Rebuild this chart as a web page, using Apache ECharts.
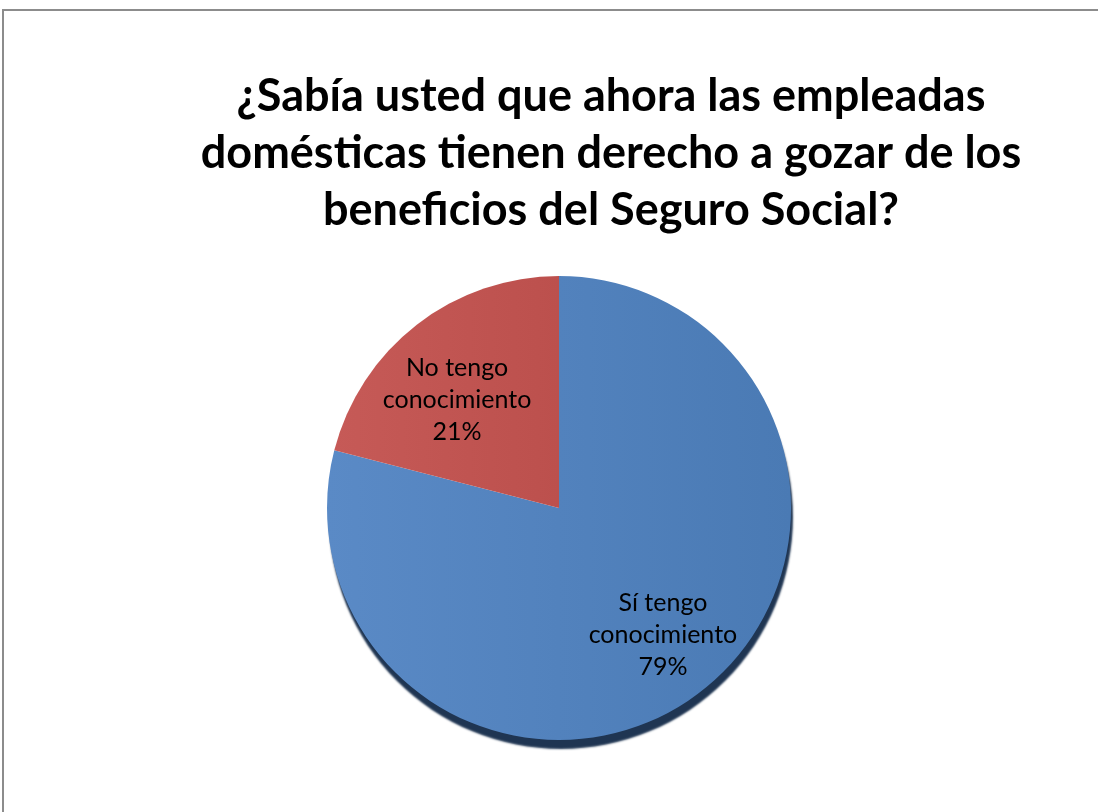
<!DOCTYPE html>
<html>
<head>
<meta charset="utf-8">
<script src="https://cdn.jsdelivr.net/npm/echarts@6/dist/echarts.min.js"></script>
<style>
  html, body { margin: 0; padding: 0; background: #fff; overflow: hidden; }
  #pie-chart { width: 1098px; height: 812px; }
</style>
</head>
<body>
<div id="pie-chart"></div>
<script>
var titleText = '¿Sabía usted que ahora las empleadas\ndomésticas tienen derecho a gozar de los\nbeneficios del Seguro Social?';
var categories = ['Sí tengo\nconocimiento', 'No tengo\nconocimiento'];
var values = [79, 21];
var colors = [['#5a8ac6', '#4a7ab4'], ['#c65a57', '#bc504d']];
var labelShift = [[31, 33], [-29, -14]];

var myPieChart = echarts.init(document.getElementById('pie-chart'));

var pieData = categories.map(function (name, i) {
    var item = {
        name: name,
        value: values[i],
        itemStyle: {
            color: {
                type: 'linear', x: 0, y: 0, x2: 1, y2: 0,
                colorStops: [{offset: 0, color: colors[i][0]}, {offset: 1, color: colors[i][1]}]
            }
        },
        label: { offset: labelShift[i] }
    };
    if (i === 0) {
        // dark rim under the pie
        item.itemStyle.shadowColor = '#1f3552';
        item.itemStyle.shadowOffsetY = 9;
        item.itemStyle.shadowOffsetX = 2;
        item.itemStyle.shadowBlur = 2;
    }
    return item;
});

optionPie = {
    animation: false,
    title: {
        text: titleText,
        left: 606,
        top: 63,
        textAlign: 'center',
        textStyle: {
            fontFamily: 'Lato',
            fontWeight: 'bold',
            fontSize: 45,
            lineHeight: 57,
            color: '#000'
        }
    },
    graphic: [
        {
            type: 'polyline',
            shape: { points: [[3, 900], [3, 10], [1200, 10]] },
            style: { fill: null, stroke: '#8c8c8c', lineWidth: 2 },
            silent: true
        }
    ],
    series: [
        {
            type: 'pie',
            center: [559, 508],
            radius: 232,
            startAngle: 90,
            clockwise: true,
            label: {
                show: true,
                position: 'inside',
                formatter: '{b}\n{d}%',
                fontFamily: 'Lato',
                fontSize: 25,
                lineHeight: 32,
                color: '#000'
            },
            labelLine: { show: false },
            emphasis: { disabled: true },
            data: pieData
        }
    ]
};

myPieChart.setOption(optionPie);
window.addEventListener('resize', function () {
    myPieChart.resize();
});
</script>
</body>
</html>
